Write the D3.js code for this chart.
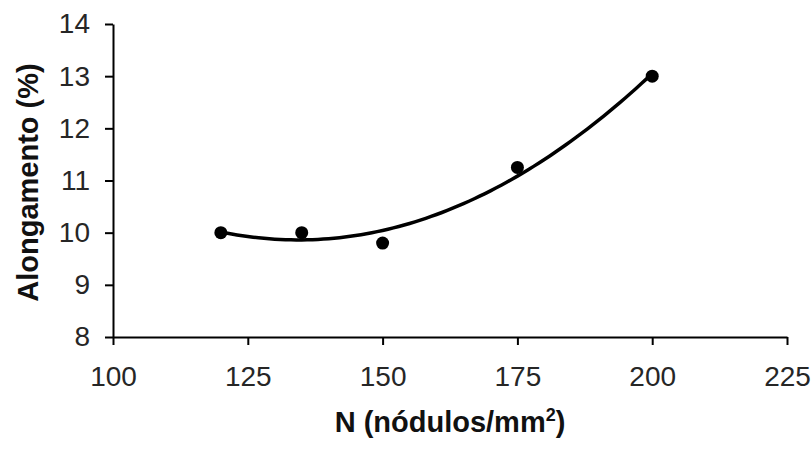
<!DOCTYPE html>
<html>
<head>
<meta charset="utf-8">
<script src="https://cdn.jsdelivr.net/npm/d3@7/dist/d3.min.js"></script>
<style>
  body { margin: 0; background: #fff; }
  .axis text { font-family: "Liberation Sans", Arial, sans-serif; font-size: 28px; fill: #262626; }
  .axis path, .axis line { stroke: #000; stroke-width: 2; }
  .title { font-family: "Liberation Sans", Arial, sans-serif; font-weight: bold; font-size: 29px; fill: #111; }
</style>
</head>
<body>
<svg id="chart"></svg>
<script>
// data
var nodulos = [120, 135, 150, 175, 200];
var alongamento = [10.0, 10.0, 9.8, 11.25, 13.0];
var xTicks = [100, 125, 150, 175, 200, 225];
var yTicks = [8, 9, 10, 11, 12, 13, 14];

var w = 811;
var h = 451;
var plotLeft = 113, plotRight = 787, plotTop = 24, plotBottom = 337;

var svg = d3.select("#chart")
  .attr("width", w)
  .attr("height", h);

var xScale = d3.scaleLinear().domain([100, 225]).range([plotLeft, plotRight]);
var yScale = d3.scaleLinear().domain([8, 14]).range([plotBottom, plotTop]);

var xAxis = d3.axisBottom(xScale)
  .tickValues(xTicks)
  .tickFormat(d3.format("d"))
  .tickSize(8)
  .tickSizeOuter(0)
  .tickPadding(21);

var yAxis = d3.axisLeft(yScale)
  .tickValues(yTicks)
  .tickFormat(d3.format("d"))
  .tickSize(8)
  .tickSizeOuter(0)
  .tickPadding(15);

svg.append("g")
  .attr("class", "axis axis--x")
  .attr("transform", "translate(0," + plotBottom + ")")
  .call(xAxis);

svg.append("g")
  .attr("class", "axis axis--y")
  .attr("transform", "translate(" + plotLeft + ",0)")
  .call(yAxis);

// quadratic trend line (least squares, like the spreadsheet polynomial fit)
// x is centred to keep the normal equations well conditioned
function polyFit(xs, ys, x0) {
  var s = [0, 0, 0, 0, 0], t = [0, 0, 0];
  for (var i = 0; i < xs.length; i++) {
    var p = 1, u = xs[i] - x0;
    for (var k = 0; k < 5; k++) { s[k] += p; if (k < 3) t[k] += p * ys[i]; p *= u; }
  }
  var m = [[s[0], s[1], s[2], t[0]], [s[1], s[2], s[3], t[1]], [s[2], s[3], s[4], t[2]]];
  for (var c = 0; c < 3; c++) {
    for (var r = c + 1; r < 3; r++) {
      var f = m[r][c] / m[c][c];
      for (var j = c; j < 4; j++) m[r][j] -= f * m[c][j];
    }
  }
  var a = [0, 0, 0];
  for (var r2 = 2; r2 >= 0; r2--) {
    var v = m[r2][3];
    for (var j2 = r2 + 1; j2 < 3; j2++) v -= m[r2][j2] * a[j2];
    a[r2] = v / m[r2][r2];
  }
  return a;
}

var x0 = d3.mean(nodulos);
var coef = polyFit(nodulos, alongamento, x0);
var xs = d3.range(d3.min(nodulos), d3.max(nodulos) + 0.5, 1);
var trend = xs.map(function (x) {
  var u = x - x0;
  return {x: x, y: coef[0] + coef[1] * u + coef[2] * u * u};
});

var line = d3.line()
  .x(function (d) { return xScale(d.x); })
  .y(function (d) { return yScale(d.y); });

svg.append("path")
  .datum(trend)
  .attr("d", line)
  .attr("fill", "none")
  .attr("stroke", "#000")
  .attr("stroke-width", 3.5);

svg.selectAll(".dot")
  .data(nodulos)
  .enter().append("circle")
    .attr("class", "dot")
    .attr("cx", function (d) { return xScale(d); })
    .attr("cy", function (d, i) { return yScale(alongamento[i]); })
    .attr("r", 6.5)
    .attr("fill", "#000");

var xTitle = svg.append("text")
  .attr("class", "title")
  .attr("x", (plotLeft + plotRight) / 2)
  .attr("y", 432)
  .attr("text-anchor", "middle");
xTitle.append("tspan").text("N (nódulos/mm");
xTitle.append("tspan").attr("font-size", "18px").attr("dy", "-11").text("2");
xTitle.append("tspan").attr("dy", "11").text(")");

svg.append("text")
  .attr("class", "title")
  .attr("transform", "translate(38," + ((plotTop + plotBottom) / 2 + 2) + ") rotate(-90)")
  .attr("text-anchor", "middle")
  .text("Alongamento (%)");
</script>
</body>
</html>
